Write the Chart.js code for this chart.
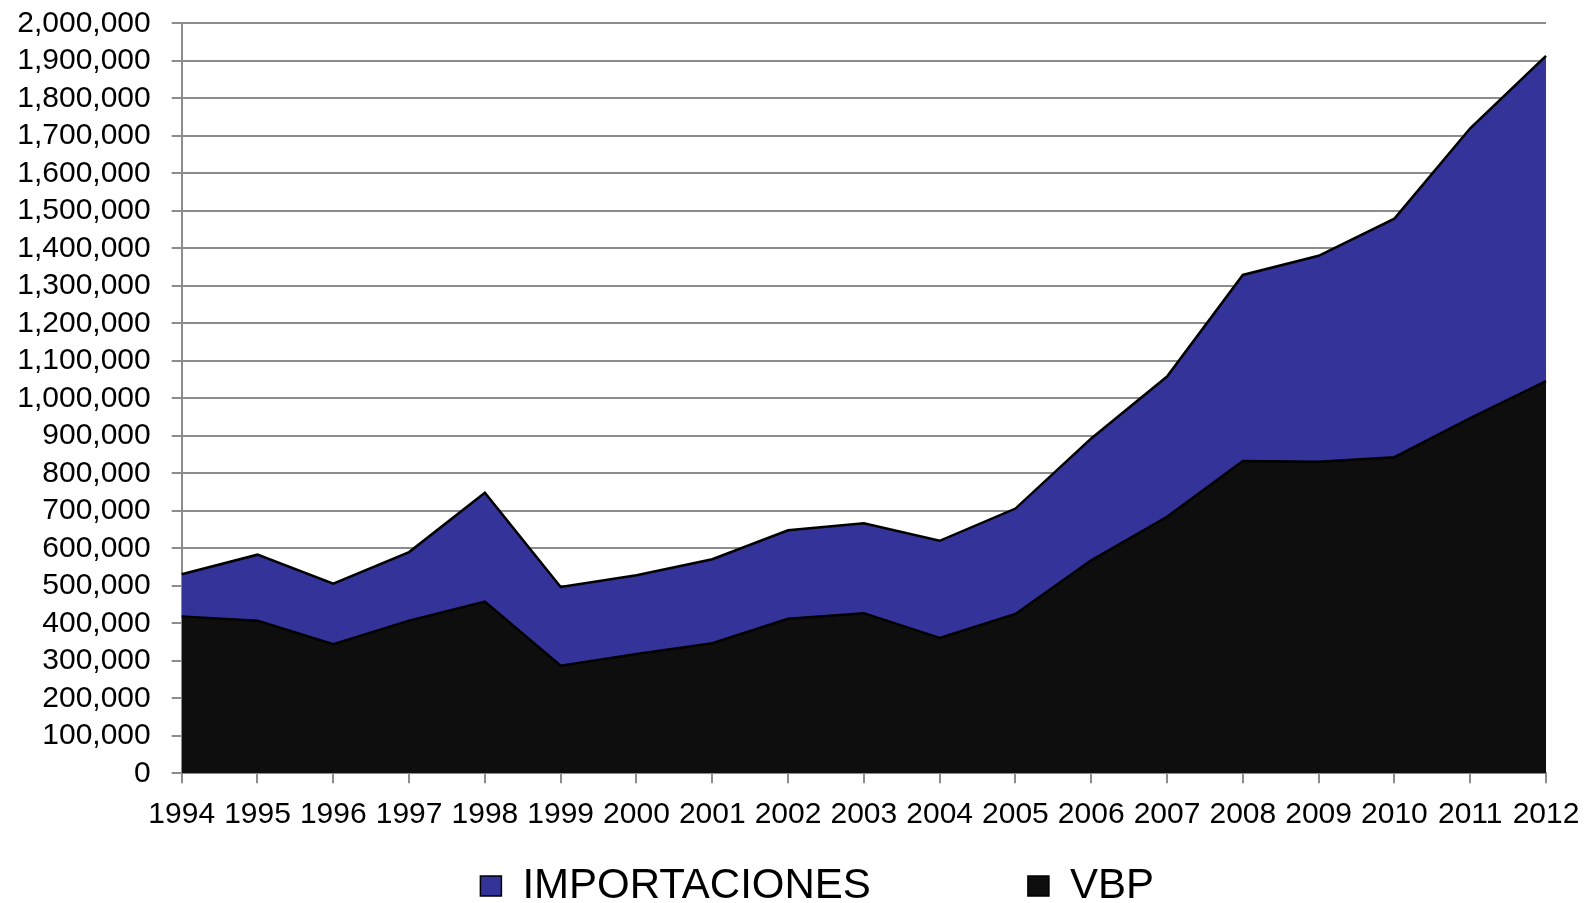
<!DOCTYPE html>
<html>
<head>
<meta charset="utf-8">
<script src="https://cdn.jsdelivr.net/npm/chart.js@4"></script>
<style>
  html, body { margin: 0; padding: 0; background: #ffffff; overflow: hidden; }
  #wrap { width: 1585px; height: 903px; }
</style>
</head>
<body>
<div id="wrap"><canvas id="c" width="1585" height="903"></canvas></div>
<script>
const years = ['1994','1995','1996','1997','1998','1999','2000','2001','2002','2003','2004','2005','2006','2007','2008','2009','2010','2011','2012'];
const vbp = [418000, 407000, 344000, 407000, 458000, 287000, 318000, 347000, 412000, 427000, 361000, 425000, 568000, 684000, 833000, 831000, 843000, 947000, 1046000];
const importaciones = [113000, 176000, 162000, 183000, 290000, 210000, 210000, 224000, 236000, 240000, 259000, 281000, 325000, 374000, 496000, 549000, 636000, 773000, 867000];
const seriesNames = ['VBP', 'IMPORTACIONES'];
const yMin = 0, yMax = 2000000, yStep = 100000;

const FONT = "'Liberation Sans', Arial, sans-serif";

new Chart(document.getElementById('c'), {
  type: 'line',
  data: {
    labels: years,
    datasets: [
      {
        label: seriesNames[0],
        data: vbp,
        backgroundColor: '#0e0e0e',
        borderColor: '#000000',
        borderWidth: 2.5,
        fill: 'origin',
        pointRadius: 0,
        tension: 0
      },
      {
        label: seriesNames[1],
        data: importaciones,
        backgroundColor: '#333399',
        borderColor: '#000000',
        borderWidth: 2.5,
        fill: '-1',
        pointRadius: 0,
        tension: 0
      }
    ]
  },
  options: {
    responsive: false,
    animation: false,
    devicePixelRatio: 1,
    layout: { padding: { left: 0, right: 39, top: 23.3, bottom: -14 } },
    scales: {
      x: {
        type: 'category',
        offset: false,
        grid: { display: true, drawOnChartArea: false, drawTicks: true, tickLength: 10, color: '#8c8c8c', lineWidth: 2 },
        border: { display: true, color: '#8c8c8c', width: 2 },
        ticks: { color: '#000000', font: { family: FONT, size: 30 }, padding: 13, maxRotation: 0, autoSkip: false },
        afterFit: (s) => { s.height = 74.7; s.paddingLeft = 0; s.paddingRight = 0; }
      },
      y: {
        stacked: true,
        min: yMin,
        max: yMax,
        grid: { color: '#8c8c8c', lineWidth: 2, tickLength: 10, drawTicks: true },
        border: { display: true, color: '#8c8c8c', width: 2 },
        ticks: {
          stepSize: yStep,
          autoSkip: false,
          color: '#000000',
          font: { family: FONT, size: 30 },
          padding: 21,
          callback: (v) => Number(v).toLocaleString('en-US')
        },
        afterFit: (s) => { s.width = 181.7; s.paddingTop = 0; s.paddingBottom = 0; }
      }
    },
    plugins: {
      tooltip: { enabled: false },
      title: { display: false },
      legend: {
        display: true,
        position: 'bottom',
        fullSize: false,
        labels: {
          color: '#000000',
          font: { family: FONT, size: 42 },
          boxWidth: 21,
          boxHeight: 20,
          padding: 17,
          sort: (a, b) => b.datasetIndex - a.datasetIndex,
          generateLabels: (chart) => {
            const items = Chart.defaults.plugins.legend.labels.generateLabels(chart);
            items.forEach(it => {
              if (it.text === seriesNames[1]) it.text = it.text + '            ';
              if (it.text === seriesNames[0]) it.text = it.text + '        ';
              it.lineWidth = 1.5;
            });
            return items;
          }
        }
      }
    }
  }
});
</script>
</body>
</html>
